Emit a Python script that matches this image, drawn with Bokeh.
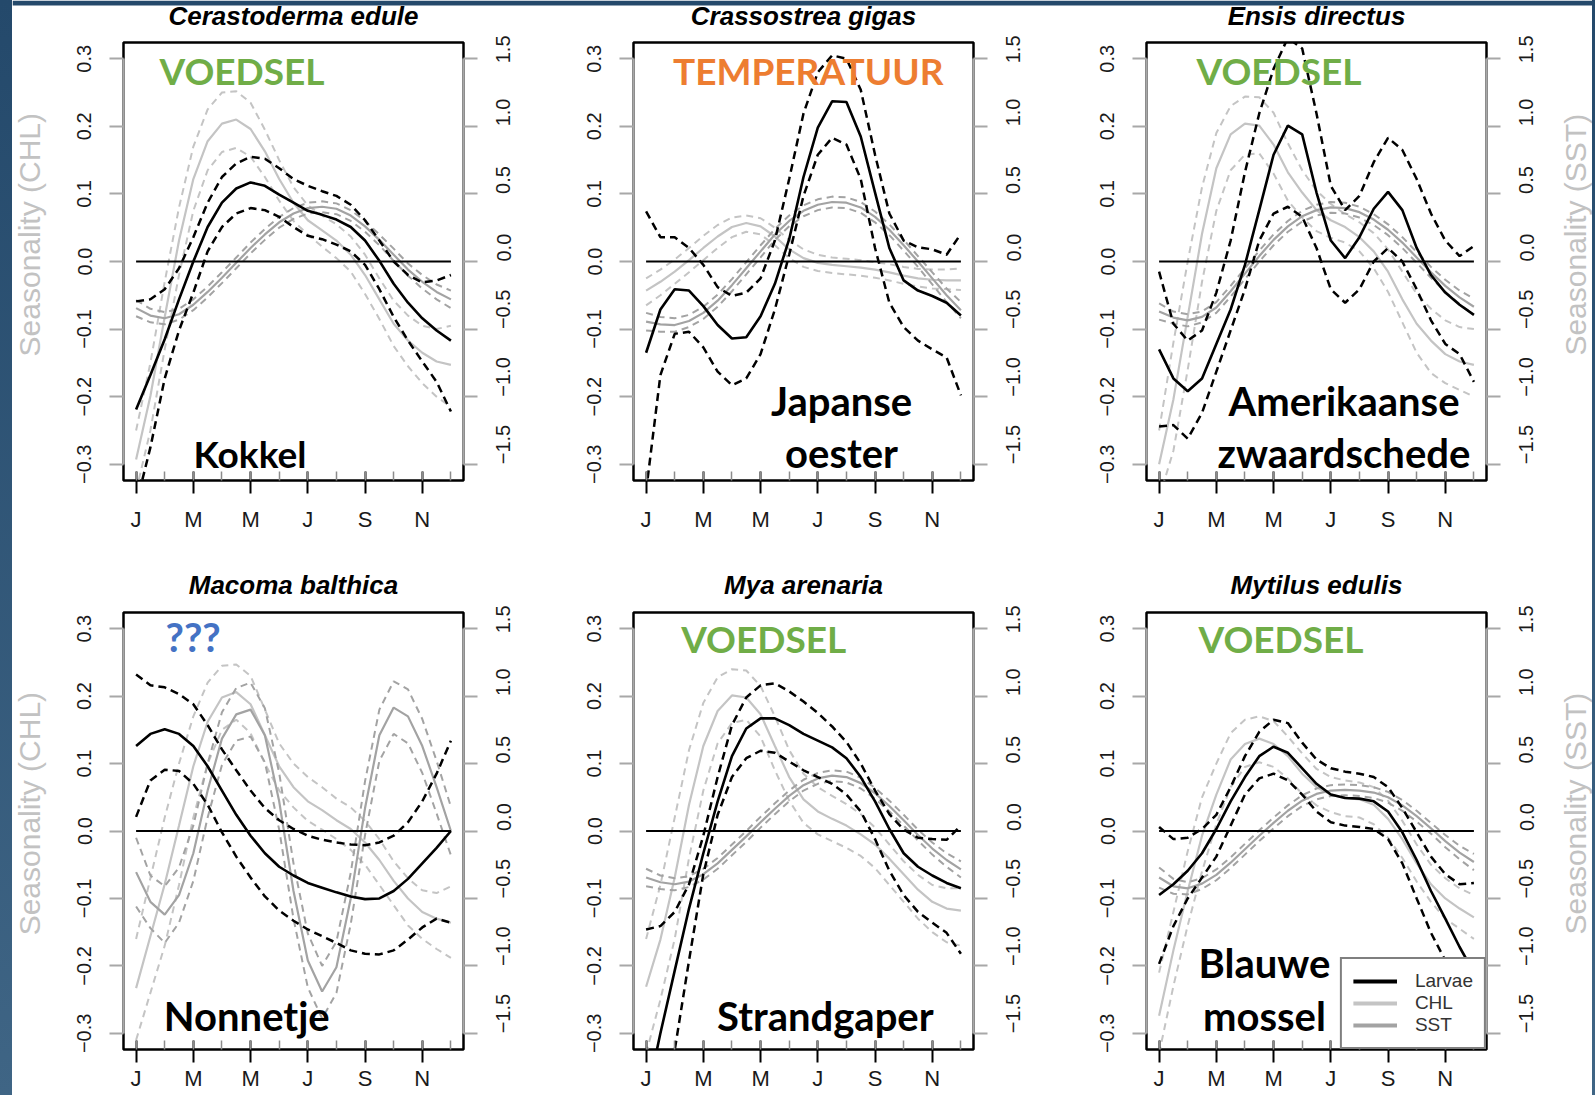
import math
from bokeh.plotting import figure
from bokeh.models import (Range1d, LinearAxis, FixedTicker, CustomJSTickFormatter,
                          Label, Legend, LegendItem, Div, BoxAnnotation)
from bokeh.core.properties import value
from bokeh.layouts import row, column
from bokeh.embed import file_html
from bokeh.resources import INLINE

# ---------------- data ----------------
MONTHS = [1, 1.5, 2, 2.5, 3, 3.5, 4, 4.5, 5, 5.5, 6, 6.5, 7, 7.5, 8, 8.5, 9, 9.5, 10, 10.5, 11, 11.5, 12]
MONTH_TICKS = [1, 3, 5, 7, 9, 11]
MONTH_LABELS = ["J", "M", "M", "J", "S", "N"]
ALL_MONTHS = [1, 2, 3, 4, 5, 6, 7, 8, 9, 10, 11, 12]
CHL_TICKS = [-0.3, -0.2, -0.1, 0.0, 0.1, 0.2, 0.3]
SST_TICKS = [-1.5, -1.0, -0.5, 0.0, 0.5, 1.0, 1.5]

SPECIES = ["Cerastoderma edule", "Crassostrea gigas", "Ensis directus",
           "Macoma balthica", "Mya arenaria", "Mytilus edulis"]
LEGEND_LABELS = ["Larvae", "CHL", "SST"]
AXIS_TITLES = ["Seasonality (CHL)", "Seasonality (SST)"]

# Cerastoderma edule
ced_larvae = [-0.219, -0.168, -0.115, -0.056, 0.000, 0.051, 0.087, 0.108, 0.117, 0.112, 0.099, 0.087, 0.075, 0.069, 0.062, 0.051, 0.031, 0.001, -0.033, -0.061, -0.084, -0.102, -0.117]
ced_larvae_hi = [-0.059, -0.056, -0.041, -0.010, 0.036, 0.087, 0.125, 0.145, 0.155, 0.152, 0.138, 0.122, 0.112, 0.104, 0.097, 0.084, 0.061, 0.031, 0.000, -0.020, -0.031, -0.028, -0.020]
ced_larvae_lo = [-0.360, -0.275, -0.173, -0.102, -0.046, 0.015, 0.051, 0.071, 0.079, 0.076, 0.066, 0.051, 0.038, 0.033, 0.025, 0.015, -0.005, -0.041, -0.082, -0.117, -0.148, -0.178, -0.222]
ced_chl = [-0.293, -0.199, -0.082, 0.031, 0.122, 0.178, 0.204, 0.210, 0.196, 0.163, 0.122, 0.087, 0.061, 0.046, 0.031, 0.010, -0.020, -0.056, -0.092, -0.117, -0.135, -0.148, -0.153]
ced_chl_hi = [-0.250, -0.150, -0.030, 0.080, 0.170, 0.225, 0.250, 0.252, 0.235, 0.195, 0.150, 0.110, 0.083, 0.068, 0.055, 0.037, 0.010, -0.025, -0.058, -0.080, -0.095, -0.100, -0.095]
ced_chl_lo = [-0.340, -0.250, -0.130, -0.020, 0.075, 0.135, 0.162, 0.168, 0.155, 0.125, 0.090, 0.060, 0.040, 0.022, 0.005, -0.015, -0.048, -0.085, -0.125, -0.155, -0.180, -0.200, -0.215]
ced_sst = [-0.345, -0.400, -0.420, -0.390, -0.320, -0.225, -0.120, -0.010, 0.100, 0.200, 0.290, 0.355, 0.395, 0.405, 0.390, 0.340, 0.260, 0.160, 0.050, -0.060, -0.150, -0.225, -0.280]
ced_sst_hi = [-0.285, -0.350, -0.375, -0.350, -0.280, -0.185, -0.080, 0.030, 0.140, 0.240, 0.330, 0.395, 0.435, 0.445, 0.430, 0.380, 0.300, 0.200, 0.095, -0.015, -0.100, -0.170, -0.215]
ced_sst_lo = [-0.405, -0.450, -0.465, -0.430, -0.360, -0.265, -0.160, -0.050, 0.060, 0.160, 0.250, 0.315, 0.355, 0.365, 0.350, 0.300, 0.220, 0.120, 0.005, -0.105, -0.200, -0.280, -0.345]

# Crassostrea gigas
cgi_larvae = [-0.135, -0.071, -0.041, -0.043, -0.066, -0.094, -0.114, -0.112, -0.081, -0.033, 0.033, 0.125, 0.198, 0.237, 0.236, 0.185, 0.102, 0.020, -0.028, -0.043, -0.051, -0.061, -0.080]
cgi_larvae_hi = [0.074, 0.036, 0.036, 0.020, -0.005, -0.038, -0.051, -0.046, -0.025, 0.031, 0.122, 0.219, 0.280, 0.305, 0.300, 0.254, 0.158, 0.071, 0.031, 0.021, 0.018, 0.010, 0.041]
cgi_larvae_lo = [-0.340, -0.168, -0.107, -0.104, -0.127, -0.163, -0.183, -0.173, -0.137, -0.071, 0.010, 0.097, 0.158, 0.183, 0.173, 0.122, 0.020, -0.061, -0.097, -0.117, -0.130, -0.142, -0.198]
cgi_chl = [-0.043, -0.030, -0.015, 0.002, 0.020, 0.037, 0.051, 0.057, 0.052, 0.037, 0.018, 0.005, -0.002, -0.005, -0.007, -0.009, -0.012, -0.016, -0.021, -0.025, -0.027, -0.028, -0.028]
cgi_chl_hi = [-0.025, -0.012, 0.003, 0.020, 0.038, 0.054, 0.065, 0.068, 0.064, 0.050, 0.032, 0.018, 0.010, 0.006, 0.004, 0.002, -0.001, -0.004, -0.008, -0.011, -0.012, -0.012, -0.010]
cgi_chl_lo = [-0.065, -0.050, -0.033, -0.016, 0.002, 0.020, 0.036, 0.044, 0.040, 0.024, 0.005, -0.008, -0.014, -0.017, -0.019, -0.021, -0.024, -0.028, -0.033, -0.037, -0.040, -0.041, -0.042]
cgi_sst = [-0.445, -0.465, -0.470, -0.440, -0.380, -0.290, -0.175, -0.050, 0.075, 0.200, 0.300, 0.375, 0.420, 0.440, 0.435, 0.400, 0.330, 0.235, 0.120, 0.000, -0.125, -0.250, -0.360]
cgi_sst_hi = [-0.380, -0.410, -0.420, -0.395, -0.335, -0.245, -0.130, -0.005, 0.120, 0.240, 0.340, 0.415, 0.460, 0.480, 0.475, 0.440, 0.370, 0.275, 0.160, 0.040, -0.080, -0.200, -0.300]
cgi_sst_lo = [-0.510, -0.520, -0.520, -0.485, -0.425, -0.335, -0.220, -0.095, 0.030, 0.160, 0.260, 0.335, 0.380, 0.400, 0.395, 0.360, 0.290, 0.195, 0.080, -0.040, -0.170, -0.300, -0.420]

# Ensis directus
edi_larvae = [-0.130, -0.173, -0.192, -0.173, -0.122, -0.071, -0.005, 0.076, 0.158, 0.201, 0.188, 0.102, 0.031, 0.005, 0.036, 0.078, 0.103, 0.076, 0.020, -0.020, -0.046, -0.064, -0.079]
edi_larvae_hi = [-0.015, -0.092, -0.117, -0.102, -0.046, 0.031, 0.132, 0.219, 0.285, 0.331, 0.315, 0.219, 0.112, 0.076, 0.097, 0.147, 0.183, 0.165, 0.122, 0.071, 0.031, 0.008, 0.023]
edi_larvae_lo = [-0.244, -0.242, -0.262, -0.224, -0.163, -0.102, -0.041, 0.031, 0.071, 0.081, 0.066, 0.020, -0.041, -0.061, -0.041, 0.000, 0.020, 0.000, -0.041, -0.087, -0.122, -0.137, -0.178]
edi_chl = [-0.300, -0.204, -0.082, 0.041, 0.138, 0.188, 0.204, 0.201, 0.173, 0.132, 0.102, 0.076, 0.061, 0.051, 0.036, 0.015, -0.015, -0.056, -0.092, -0.117, -0.137, -0.148, -0.153]
edi_chl_hi = [-0.250, -0.120, 0.000, 0.110, 0.190, 0.230, 0.244, 0.243, 0.220, 0.175, 0.135, 0.105, 0.085, 0.070, 0.058, 0.042, 0.018, -0.015, -0.048, -0.070, -0.087, -0.097, -0.100]
edi_chl_lo = [-0.350, -0.280, -0.160, -0.030, 0.075, 0.135, 0.158, 0.160, 0.130, 0.090, 0.065, 0.045, 0.035, 0.028, 0.015, -0.010, -0.045, -0.090, -0.135, -0.165, -0.180, -0.190, -0.200]
edi_sst = [-0.370, -0.415, -0.435, -0.410, -0.340, -0.220, -0.090, 0.040, 0.160, 0.260, 0.335, 0.380, 0.400, 0.395, 0.365, 0.310, 0.235, 0.140, 0.030, -0.080, -0.180, -0.265, -0.335]
edi_sst_hi = [-0.310, -0.370, -0.390, -0.370, -0.300, -0.180, -0.050, 0.080, 0.200, 0.300, 0.375, 0.420, 0.440, 0.435, 0.405, 0.350, 0.275, 0.180, 0.070, -0.040, -0.135, -0.215, -0.275]
edi_sst_lo = [-0.430, -0.460, -0.480, -0.450, -0.380, -0.260, -0.130, 0.000, 0.120, 0.220, 0.295, 0.340, 0.360, 0.355, 0.325, 0.270, 0.195, 0.100, -0.010, -0.120, -0.225, -0.315, -0.395]

# Macoma balthica
mba_larvae = [0.126, 0.144, 0.151, 0.144, 0.126, 0.096, 0.060, 0.024, -0.007, -0.033, -0.053, -0.066, -0.077, -0.084, -0.091, -0.097, -0.101, -0.100, -0.089, -0.071, -0.048, -0.025, 0.000]
mba_larvae_hi = [0.232, 0.216, 0.213, 0.203, 0.188, 0.157, 0.121, 0.090, 0.060, 0.034, 0.016, 0.003, -0.007, -0.013, -0.017, -0.020, -0.021, -0.017, -0.007, 0.013, 0.044, 0.085, 0.134]
mba_larvae_lo = [0.021, 0.075, 0.091, 0.089, 0.070, 0.039, -0.002, -0.038, -0.069, -0.097, -0.118, -0.133, -0.146, -0.156, -0.166, -0.177, -0.182, -0.183, -0.177, -0.161, -0.143, -0.130, -0.136]
mba_chl = [-0.233, -0.156, -0.079, 0.008, 0.096, 0.162, 0.198, 0.206, 0.188, 0.142, 0.096, 0.065, 0.044, 0.031, 0.016, 0.003, -0.017, -0.043, -0.074, -0.100, -0.120, -0.130, -0.136]
mba_chl_hi = [-0.160, -0.070, 0.020, 0.100, 0.170, 0.220, 0.245, 0.247, 0.230, 0.180, 0.130, 0.100, 0.080, 0.065, 0.048, 0.035, 0.015, -0.012, -0.045, -0.070, -0.088, -0.092, -0.082]
mba_chl_lo = [-0.310, -0.240, -0.170, -0.080, 0.020, 0.100, 0.150, 0.165, 0.145, 0.100, 0.060, 0.035, 0.015, 0.002, -0.012, -0.028, -0.050, -0.080, -0.110, -0.140, -0.160, -0.175, -0.188]
mba_sst = [-0.305, -0.525, -0.620, -0.475, -0.165, 0.300, 0.685, 0.865, 0.900, 0.710, 0.220, -0.445, -0.960, -1.190, -1.010, -0.500, 0.170, 0.710, 0.915, 0.850, 0.630, 0.325, 0.000]
mba_sst_hi = [-0.050, -0.330, -0.410, -0.270, 0.040, 0.500, 0.880, 1.060, 1.100, 0.910, 0.430, -0.240, -0.760, -1.000, -0.820, -0.310, 0.370, 0.900, 1.110, 1.050, 0.830, 0.520, 0.180]
mba_sst_lo = [-0.560, -0.720, -0.830, -0.680, -0.370, 0.100, 0.490, 0.670, 0.700, 0.510, 0.010, -0.650, -1.160, -1.390, -1.200, -0.690, -0.030, 0.520, 0.720, 0.650, 0.430, 0.130, -0.180]

# Mya arenaria
mar_larvae = [-0.400, -0.300, -0.207, -0.115, -0.033, 0.044, 0.111, 0.152, 0.167, 0.167, 0.157, 0.144, 0.134, 0.124, 0.108, 0.080, 0.044, 0.003, -0.033, -0.053, -0.066, -0.077, -0.085]
mar_larvae_hi = [-0.146, -0.141, -0.120, -0.079, -0.007, 0.080, 0.157, 0.198, 0.216, 0.219, 0.207, 0.192, 0.175, 0.155, 0.132, 0.100, 0.060, 0.025, 0.002, -0.010, -0.012, -0.013, 0.008]
mar_larvae_lo = [-0.550, -0.440, -0.325, -0.192, -0.064, 0.024, 0.080, 0.108, 0.119, 0.116, 0.103, 0.090, 0.080, 0.070, 0.054, 0.029, -0.012, -0.059, -0.095, -0.120, -0.136, -0.151, -0.182]
mar_chl = [-0.231, -0.161, -0.069, 0.039, 0.126, 0.178, 0.201, 0.198, 0.173, 0.126, 0.080, 0.047, 0.029, 0.018, 0.008, -0.005, -0.020, -0.041, -0.064, -0.087, -0.105, -0.115, -0.118]
mar_chl_hi = [-0.160, -0.080, 0.020, 0.120, 0.190, 0.228, 0.240, 0.238, 0.215, 0.170, 0.120, 0.085, 0.065, 0.052, 0.040, 0.025, 0.005, -0.020, -0.045, -0.065, -0.080, -0.085, -0.085]
mar_chl_lo = [-0.330, -0.250, -0.160, -0.040, 0.060, 0.130, 0.160, 0.165, 0.140, 0.090, 0.045, 0.012, -0.005, -0.015, -0.025, -0.037, -0.055, -0.080, -0.105, -0.130, -0.150, -0.165, -0.170]
mar_sst = [-0.345, -0.380, -0.395, -0.375, -0.320, -0.240, -0.140, -0.040, 0.065, 0.165, 0.260, 0.340, 0.390, 0.410, 0.400, 0.355, 0.280, 0.185, 0.080, -0.030, -0.130, -0.215, -0.285]
mar_sst_hi = [-0.280, -0.330, -0.350, -0.335, -0.280, -0.200, -0.100, 0.000, 0.105, 0.205, 0.300, 0.380, 0.430, 0.450, 0.440, 0.395, 0.320, 0.225, 0.120, 0.010, -0.085, -0.165, -0.225]
mar_sst_lo = [-0.410, -0.430, -0.440, -0.415, -0.360, -0.280, -0.180, -0.080, 0.025, 0.125, 0.220, 0.300, 0.350, 0.370, 0.360, 0.315, 0.240, 0.145, 0.040, -0.070, -0.175, -0.265, -0.345]

# Mytilus edulis
med_larvae = [-0.095, -0.079, -0.059, -0.033, 0.003, 0.044, 0.080, 0.111, 0.125, 0.116, 0.093, 0.070, 0.054, 0.049, 0.048, 0.044, 0.029, -0.002, -0.043, -0.089, -0.130, -0.172, -0.210]
med_larvae_hi = [0.006, -0.012, -0.010, 0.003, 0.024, 0.065, 0.111, 0.147, 0.165, 0.160, 0.131, 0.106, 0.093, 0.088, 0.085, 0.080, 0.065, 0.034, -0.002, -0.038, -0.064, -0.079, -0.077]
med_larvae_lo = [-0.197, -0.141, -0.100, -0.069, -0.038, 0.008, 0.054, 0.078, 0.085, 0.075, 0.054, 0.029, 0.013, 0.008, 0.006, 0.003, -0.012, -0.048, -0.100, -0.151, -0.192, -0.228, -0.264]
med_chl = [-0.274, -0.177, -0.089, -0.007, 0.054, 0.106, 0.129, 0.137, 0.129, 0.111, 0.085, 0.065, 0.054, 0.049, 0.047, 0.039, 0.018, -0.012, -0.048, -0.079, -0.100, -0.115, -0.128]
med_chl_hi = [-0.210, -0.120, -0.030, 0.050, 0.100, 0.145, 0.165, 0.170, 0.163, 0.140, 0.115, 0.092, 0.080, 0.075, 0.072, 0.065, 0.045, 0.015, -0.020, -0.050, -0.070, -0.085, -0.095]
med_chl_lo = [-0.330, -0.230, -0.140, -0.060, 0.010, 0.065, 0.095, 0.102, 0.095, 0.078, 0.055, 0.038, 0.028, 0.022, 0.020, 0.010, -0.010, -0.040, -0.075, -0.105, -0.130, -0.145, -0.160]
med_sst = [-0.345, -0.410, -0.425, -0.390, -0.325, -0.235, -0.135, -0.035, 0.060, 0.150, 0.225, 0.275, 0.300, 0.305, 0.300, 0.285, 0.250, 0.190, 0.110, 0.020, -0.075, -0.160, -0.230]
med_sst_hi = [-0.270, -0.355, -0.380, -0.350, -0.285, -0.195, -0.095, 0.005, 0.100, 0.190, 0.265, 0.315, 0.340, 0.345, 0.340, 0.325, 0.290, 0.230, 0.150, 0.060, -0.030, -0.110, -0.170]
med_sst_lo = [-0.420, -0.465, -0.470, -0.430, -0.365, -0.275, -0.175, -0.075, 0.020, 0.110, 0.185, 0.235, 0.260, 0.265, 0.260, 0.245, 0.210, 0.150, 0.070, -0.020, -0.120, -0.210, -0.290]

PANEL_DATA = [
    ((ced_larvae, ced_larvae_hi, ced_larvae_lo), (ced_chl, ced_chl_hi, ced_chl_lo), (ced_sst, ced_sst_hi, ced_sst_lo)),
    ((cgi_larvae, cgi_larvae_hi, cgi_larvae_lo), (cgi_chl, cgi_chl_hi, cgi_chl_lo), (cgi_sst, cgi_sst_hi, cgi_sst_lo)),
    ((edi_larvae, edi_larvae_hi, edi_larvae_lo), (edi_chl, edi_chl_hi, edi_chl_lo), (edi_sst, edi_sst_hi, edi_sst_lo)),
    ((mba_larvae, mba_larvae_hi, mba_larvae_lo), (mba_chl, mba_chl_hi, mba_chl_lo), (mba_sst, mba_sst_hi, mba_sst_lo)),
    ((mar_larvae, mar_larvae_hi, mar_larvae_lo), (mar_chl, mar_chl_hi, mar_chl_lo), (mar_sst, mar_sst_hi, mar_sst_lo)),
    ((med_larvae, med_larvae_hi, med_larvae_lo), (med_chl, med_chl_hi, med_chl_lo), (med_sst, med_sst_hi, med_sst_lo)),
]

# ---------------- styling / layout ----------------
GREEN = "#70AD47"
ORANGE = "#ED7D31"
BLUE = "#4472C4"
CHL_COLOR = "#c4c4c4"
SST_COLOR = "#a3a3a3"
AXIS_GRAY = "#a8a8a8"
TITLE_GRAY = "#c2c2c2"
SLIDE_BLUE = "#24496b"
STRIP_BG = "linear-gradient(#24496b, #3f6585)"

# in-panel annotation texts: (text, x, y, colour, align, font size)
ANNOTATIONS = [
    [("VOEDSEL", 1.82, 0.282, GREEN, "left", 37), ("Kokkel", 3.01, -0.284, "black", "left", 37)],
    [("TEMPERATUUR", 1.94, 0.282, ORANGE, "left", 37), ("Japanse", 7.83, -0.207, "black", "center", 40),
     ("oester", 7.83, -0.284, "black", "center", 40)],
    [("VOEDSEL", 2.31, 0.282, GREEN, "left", 37), ("Amerikaanse", 7.46, -0.207, "black", "center", 40),
     ("zwaardschede", 7.46, -0.284, "black", "center", 40)],
    [("???", 2.03, 0.287, BLUE, "left", 40), ("Nonnetje", 1.97, -0.275, "black", "left", 40)],
    [("VOEDSEL", 2.23, 0.285, GREEN, "left", 37), ("Strandgaper", 3.48, -0.275, "black", "left", 40)],
    [("VOEDSEL", 2.38, 0.285, GREEN, "left", 37), ("Blauwe", 4.68, -0.196, "black", "center", 40),
     ("mossel", 4.68, -0.275, "black", "center", 40)],
]

PANEL_W = [500, 510, 492]
B_LEFT = [73, 83, 86]
B_RIGHT = [87, 87, 66]
ROW_H = [515, 490]
B_TOP = [7, 7]
B_BOT = [70, 46]
X_STANDOFF = [13, 3]
HEAD_H = [35, 55]
CHL_W = 38
SST_W = 40
INNER_W = 1580
INNER_X0 = 12

# page-pixel positions of the texts outside the plot frames
TITLE_X = [293, 803, 1316]
TITLE_Y = [15.8, 584.4]
ROW_TOP = [35, 605]
HEAD_TOP = [0, 550]
FRAME_MID_Y = [261, 830.5]
CHL_TITLE_X = 28.8
SST_TITLE_X = 1575

FMT = CustomJSTickFormatter(code="return tick.toFixed(1).replace('-', '\u2212');")


def make_panel(idx):
    r, c = divmod(idx, 3)
    p = figure(width=PANEL_W[c], height=ROW_H[r],
               x_range=Range1d(0.56, 12.44), y_range=Range1d(-0.324, 0.324),
               x_axis_type=None, y_axis_type=None,
               toolbar_location=None, output_backend="svg",
               min_border_left=B_LEFT[c], min_border_right=B_RIGHT[c],
               min_border_top=B_TOP[r], min_border_bottom=B_BOT[r])
    p.extra_y_ranges = {"sst": Range1d(-1.62, 1.62)}
    p.background_fill_color = "white"
    p.border_fill_color = "white"
    p.outline_line_color = "black"
    p.outline_line_width = 2.5
    p.outline_line_alpha = 1.0

    xax = LinearAxis(ticker=FixedTicker(ticks=MONTH_TICKS, minor_ticks=ALL_MONTHS),
                     major_label_overrides=dict(zip(MONTH_TICKS, MONTH_LABELS)))
    xax.axis_line_color = None
    xax.major_tick_in = 9
    xax.major_tick_out = 13
    xax.major_tick_line_color = "black"
    xax.major_tick_line_width = 2
    xax.minor_tick_in = 9
    xax.minor_tick_out = 0
    xax.minor_tick_line_color = "#8c8c8c"
    xax.minor_tick_line_width = 1.5
    xax.major_label_text_font = "Liberation Sans"
    xax.major_label_text_font_size = "22px"
    xax.major_label_text_color = "#1a1a1a"
    xax.major_label_standoff = X_STANDOFF[r]
    p.add_layout(xax, "below")

    yl = LinearAxis(ticker=FixedTicker(ticks=CHL_TICKS), formatter=FMT, bounds=(-0.3, 0.3))
    yr = LinearAxis(y_range_name="sst", ticker=FixedTicker(ticks=SST_TICKS), formatter=FMT,
                    bounds=(-1.5, 1.5))
    for ax in (yl, yr):
        ax.axis_line_color = AXIS_GRAY
        ax.axis_line_width = 2.5
        ax.major_tick_in = 0
        ax.major_tick_out = 14
        ax.major_tick_line_color = AXIS_GRAY
        ax.major_tick_line_width = 2
        ax.minor_tick_line_color = None
        ax.major_label_text_font = "Liberation Sans"
        ax.major_label_text_font_size = "20px"
        ax.major_label_text_color = "#1a1a1a"
    yl.major_label_orientation = "parallel"
    yl.major_label_standoff = 18
    yr.major_label_orientation = math.pi / 2
    yr.major_label_standoff = 26
    p.add_layout(yl, "left")
    p.add_layout(yr, "right")

    larvae, chl, sst = PANEL_DATA[idx]
    p.line(MONTHS, chl[0], line_color=CHL_COLOR, line_width=2.2)
    for band in (chl[1], chl[2]):
        p.line(MONTHS, band, line_color=CHL_COLOR, line_width=2, line_dash="7 5")
    p.line(MONTHS, sst[0], line_color=SST_COLOR, line_width=2.2, y_range_name="sst")
    for band in (sst[1], sst[2]):
        p.line(MONTHS, band, line_color=SST_COLOR, line_width=2, line_dash="7 5", y_range_name="sst")
    p.line([MONTHS[0], MONTHS[-1]], [0, 0], line_color="black", line_width=2)
    for band in (larvae[1], larvae[2]):
        p.line(MONTHS, band, line_color="black", line_width=2.5, line_dash="8 5")
    p.line(MONTHS, larvae[0], line_color="black", line_width=2.6)

    for text, x, y, color, align, size in ANNOTATIONS[idx]:
        p.add_layout(Label(x=x, y=y, text=text, text_color=color, text_align=align,
                           text_baseline="middle", text_font="Lato",
                           text_font_style="bold", text_font_size=f"{size}px"))

    if idx == 5:
        nan = float("nan")
        rl = p.line([nan], [nan], line_color="black", line_width=4)
        rc = p.line([nan], [nan], line_color=CHL_COLOR, line_width=4)
        rs = p.line([nan], [nan], line_color=SST_COLOR, line_width=4)
        leg = Legend(items=[LegendItem(label=LEGEND_LABELS[0], renderers=[rl]),
                            LegendItem(label=LEGEND_LABELS[1], renderers=[rc]),
                            LegendItem(label=LEGEND_LABELS[2], renderers=[rs])],
                     location="bottom_right")
        leg.margin = 0
        leg.padding = 11
        leg.spacing = 0
        leg.glyph_width = 44
        leg.glyph_height = 20
        leg.label_height = 20
        leg.label_standoff = 18
        leg.label_text_font = "Liberation Sans"
        leg.label_text_font_size = "19px"
        leg.label_text_color = "#333333"
        leg.border_line_color = "black"
        leg.border_line_width = 2
        leg.background_fill_color = "white"
        leg.background_fill_alpha = 1.0
        p.add_layout(leg)
    return p


def text_strip(width, height, x0, y_top, xs, ys, texts, angle, size, color, style):
    f = figure(width=width, height=height,
               x_range=Range1d(x0, x0 + width), y_range=Range1d(y_top + height, y_top),
               x_axis_type=None, y_axis_type=None, toolbar_location=None,
               output_backend="svg", min_border=0)
    f.outline_line_color = None
    f.background_fill_color = "white"
    f.border_fill_color = "white"
    f.text(x=xs, y=ys, text=texts, angle=angle, text_align="center", text_baseline="middle",
           text_font=value("Liberation Sans"), text_font_size=value(f"{size}px"),
           text_color=color, text_font_style=style)
    return f


panels = [make_panel(i) for i in range(6)]

rows = []
for r in range(2):
    head = text_strip(INNER_W, HEAD_H[r], INNER_X0, HEAD_TOP[r],
                      TITLE_X, [TITLE_Y[r]] * 3, SPECIES[3 * r:3 * r + 3], 0, 26, "black", "bold italic")
    if r == 0:
        # dark-blue top edge of the slide
        head.add_layout(BoxAnnotation(left=INNER_X0, right=INNER_X0 + INNER_W, top=0, bottom=5,
                                      fill_color=SLIDE_BLUE, fill_alpha=1.0, line_alpha=0.0))
    chl_strip = text_strip(CHL_W, ROW_H[r], INNER_X0, ROW_TOP[r],
                           [CHL_TITLE_X], [FRAME_MID_Y[r]], [AXIS_TITLES[0]], math.pi / 2, 30,
                           TITLE_GRAY, "normal")
    sst_x0 = INNER_X0 + INNER_W - SST_W
    sst_strip = text_strip(SST_W, ROW_H[r], sst_x0, ROW_TOP[r],
                           [SST_TITLE_X], [FRAME_MID_Y[r]], [AXIS_TITLES[1]], math.pi / 2, 30,
                           TITLE_GRAY, "normal")
    rows.append(head)
    rows.append(row(chl_strip, *panels[3 * r:3 * r + 3], sst_strip, spacing=0))

grid = column(*rows, spacing=0)

left_strip = Div(text="", width=12, height=1095, margin=0, styles={"background": STRIP_BG})
right_strip = Div(text="", width=3, height=1095, margin=0, styles={"background": STRIP_BG})

layout = row(left_strip, grid, right_strip, spacing=0)

open("out.html", "w").write(file_html(layout, INLINE))
